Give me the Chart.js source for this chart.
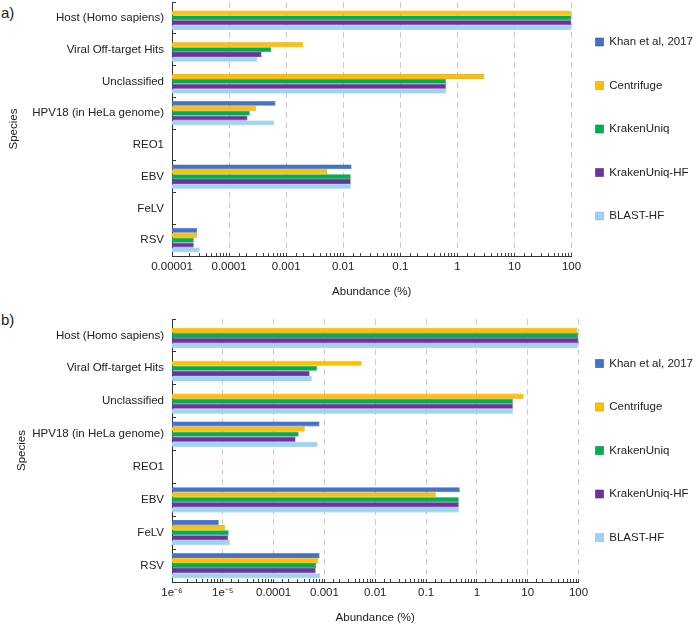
<!DOCTYPE html>
<html>
<head>
<meta charset="utf-8">
<script src="https://cdn.jsdelivr.net/npm/chart.js@4/dist/chart.umd.min.js"></script>
<style>
  html, body { margin: 0; padding: 0; background: #fff; }
  body { width: 696px; height: 626px; position: relative; overflow: hidden;
         font-family: "Liberation Sans", Arial, sans-serif; color: #222; }
  .panel { position: absolute; left: 0; width: 696px; }
  #wrapA { top: 0; height: 300px; }
  #wrapB { top: 310px; height: 316px; }
  .tag { position: absolute; left: 1px; font-size: 15px; }
</style>
</head>
<body>
<div class="tag" style="top: 4px;">a)</div>
<div class="tag" style="top: 311px;">b)</div>
<div class="panel" id="wrapA"><canvas id="chartA"></canvas></div>
<div class="panel" id="wrapB"><canvas id="chartB"></canvas></div>

<script>
// -------------------------------
// Data
// -------------------------------
const species = [
  "Host (Homo sapiens)", "Viral Off-target Hits", "Unclassified",
  "HPV18 (in HeLa genome)", "REO1", "EBV", "FeLV", "RSV"
];
const methods = ["Khan et al, 2017", "Centrifuge", "KrakenUniq", "KrakenUniq-HF", "BLAST-HF"];

// panel a)
const khanA  = [null, null, null, 0.00065, null, 0.014, null, 0.0000275];
const centA  = [97.5, 0.002, 2.95, 0.0003, null, 0.0052, null, 0.0000275];
const kuA    = [99.5, 0.00055, 0.63, 0.00023, null, 0.0135, null, 0.000024];
const kuhfA  = [99.5, 0.00037, 0.63, 0.00021, null, 0.0135, null, 0.000024];
const blastA = [99.5, 0.00031, 0.63, 0.00062, null, 0.0135, null, 0.0000306];
const ticksA = ["0.00001", "0.0001", "0.001", "0.01", "0.1", "1", "10", "100"];

// panel b)
const khanB  = [null, null, null, 0.0008, null, 0.46, 0.0000083, 0.0008];
const centB  = [93.5, 0.0054, 8.3, 0.00041, null, 0.155, 0.000011, 0.00076];
const kuB    = [99.5, 0.00071, 5.1, 0.00031, null, 0.44, 0.000013, 0.00068];
const kuhfB  = [99.5, 0.00051, 5.1, 0.00027, null, 0.44, 0.0000128, 0.00067];
const blastB = [99.5, 0.00056, 5.1, 0.00073, null, 0.44, 0.0000139, 0.00083];
const ticksB = ["1e\u207B\u2076", "1e\u207B\u2075", "0.0001", "0.001", "0.01", "0.1", "1", "10", "100"];

// -------------------------------
// Styling
// -------------------------------
const fills   = ["#4472C4", "#FFC000", "#00B050", "#7030A0", "#9DD3F3"];
const borders = ["#2F5597", "#D99A00", "#008A3E", "#562580", "#7FBCE3"];

Chart.defaults.font.family = "'Liberation Sans', Arial, sans-serif";
Chart.defaults.font.size = 11.5;
Chart.defaults.color = "#222";
Chart.defaults.animation = false;

// moves the legend sideways without touching the plot area
const legendShift = {
  id: "legendShift",
  afterLayout(chart, args, opts) {
    chart.legend.left += opts.dx;
    chart.legend.right += opts.dx;
  }
};

function isDecade(v) {
  const e = Math.log10(v);
  return Math.abs(e - Math.round(e)) < 1e-6;
}

function buildChart(id, series, tickLabels, minExp, cfg) {
  const datasets = series.map((values, i) => ({
    label: methods[i],
    data: values,
    backgroundColor: fills[i],
    borderColor: borders[i],
    borderWidth: 0.6,
    categoryPercentage: 0.77,
    barPercentage: 1.0
  }));

  return new Chart(document.getElementById(id), {
    type: "bar",
    data: { labels: species, datasets: datasets },
    plugins: [legendShift],
    options: {
      indexAxis: "y",
      responsive: true,
      maintainAspectRatio: false,
      layout: { padding: { top: cfg.top, right: cfg.right, left: 0, bottom: 0 } },
      plugins: {
        legend: {
          position: "right",
          fullSize: false,
          labels: { boxWidth: 8, boxHeight: 8, padding: 32, color: "#222" }
        },
        legendShift: { dx: cfg.dx },
        tooltip: { enabled: false }
      },
      scales: {
        x: {
          type: "logarithmic",
          min: Math.pow(10, minExp),
          max: 100,
          afterFit: (s) => { s.height = 44; s.paddingLeft = 0; s.paddingRight = 0; },
          border: { color: "#333", width: 1, dash: [6, 4] },
          grid: {
            color: (c) => (c.index > 0 && isDecade(c.tick.value)) ? "#cccccc" : "rgba(0,0,0,0)",
            tickColor: "#444",
            tickLength: -3,   // tick marks point into the plot
            lineWidth: 1
          },
          ticks: {
            autoSkip: false,
            maxRotation: 0,
            padding: 7,
            callback: (v) => isDecade(v) ? tickLabels[Math.round(Math.log10(v)) - minExp] : ""
          },
          title: { display: true, text: "Abundance (%)", padding: { top: 2, bottom: 1 } }
        },
        y: {
          afterFit: (s) => { s.width = 172; s.paddingTop = 0; s.paddingBottom = 0; },
          border: { color: "#333", width: 1 },
          grid: { drawOnChartArea: false, tickLength: -4, color: "#333" },
          ticks: { padding: 12 },
          title: { display: true, text: "Species", padding: { top: cfg.titleTop, bottom: 0 } }
        }
      }
    }
  });
}

// -------------------------------
// Draw both panels
// -------------------------------
buildChart("chartA", [khanA, centA, kuA, kuhfA, blastA], ticksA, -5,
  { top: 2, right: -15, dx: -8, titleTop: 7 });
buildChart("chartB", [khanB, centB, kuB, kuhfB, blastB], ticksB, -6,
  { top: 9, right: -22, dx: -15, titleTop: 15 });
</script>
</body>
</html>
